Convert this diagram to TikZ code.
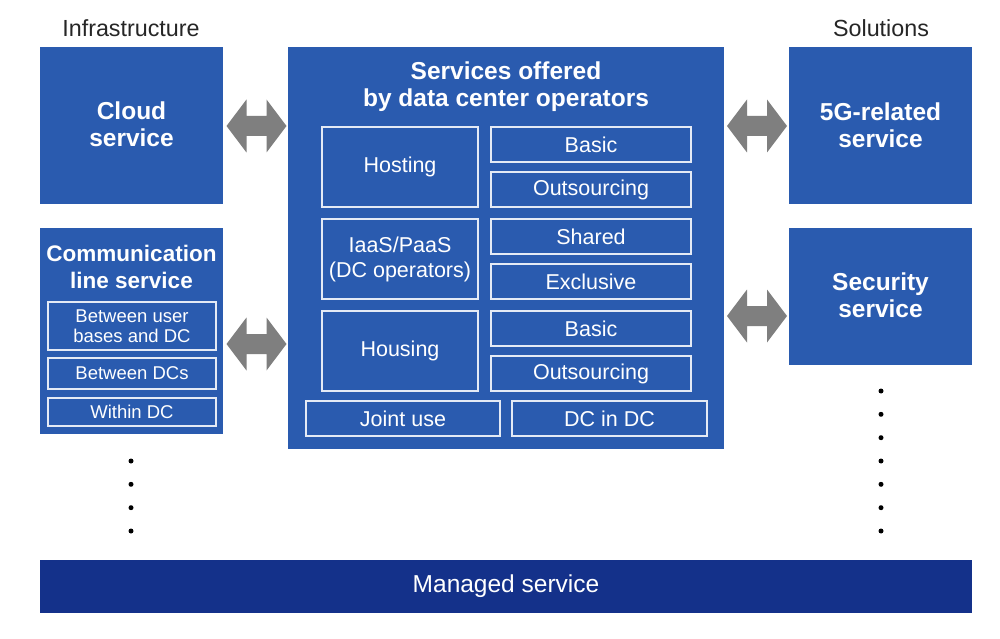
\documentclass[tikz,border=0pt]{standalone}
\usepackage{fontspec}
\setmainfont{Liberation Sans}
\definecolor{boxblue}{HTML}{2A5BAF}
\definecolor{navy}{HTML}{14318A}
\definecolor{arrowgray}{HTML}{7F7F7F}
\definecolor{frame}{HTML}{E4EAF5}
\begin{document}
\begin{tikzpicture}[x=1pt,y=-1pt,
  bluebox/.style={fill=boxblue, draw=none, inner sep=0pt, text=white, align=center,
    font=\fontsize{24.5}{27}\selectfont\bfseries},
  subbox/.style={draw=frame, line width=1.5pt, fill=boxblue, inner sep=0pt, text=white, align=center,
    font=\fontsize{21.5}{25}\selectfont},
  smallbox/.style={draw=frame, line width=1.5pt, fill=boxblue, inner sep=0pt, text=white, align=center,
    font=\fontsize{18.5}{20}\selectfont},
  titletext/.style={inner sep=0pt, text=white, align=center, font=\fontsize{24.5}{27}\selectfont\bfseries},
  headtext/.style={inner sep=0pt, text=black!85, font=\fontsize{23.3}{26}\selectfont},
  fatarrow/.style={fill=arrowgray, draw=none},
  dotmark/.style={circle, fill=black, inner sep=0pt, minimum size=5pt}
]
\useasboundingbox (0,0) rectangle (1000,639);
\fill[white] (0,0) rectangle (1000,639);

% headers
\node[headtext] (infra) at (131,28) {Infrastructure};
\node[headtext] (sol) at (881,28) {Solutions};

% left column
\node[bluebox, minimum width=183pt, minimum height=157pt] (cloud) at (131.5,125.5) {};
\node[titletext] (cloudt) at (131.5,124.5) {Cloud\\service};
\node[bluebox, minimum width=183pt, minimum height=206pt] (comm) at (131.5,331) {};
\node[titletext, font=\fontsize{22.5}{27}\selectfont\bfseries] (commtitle) at (131.5,267) {Communication\\line service};
\node[smallbox, minimum width=168pt, minimum height=48pt] (ub) at (132,326) {Between user\\bases and DC};
\node[smallbox, minimum width=168pt, minimum height=31pt] (bdc) at (132,373.5) {Between DCs};
\node[smallbox, minimum width=168pt, minimum height=28pt] (wdc) at (132,412) {Within DC};

% central box
\node[bluebox, minimum width=436pt, minimum height=402pt] (center) at (506,248) {};
\node[titletext] (ctitle) at (506,87) {Services offered\\by data center operators};
\node[subbox, minimum width=156pt, minimum height=80pt] (hosting) at (400,167) {Hosting};
\node[subbox, minimum width=156pt, minimum height=80pt] (iaas) at (400,259) {IaaS/PaaS\\(DC operators)};
\node[subbox, minimum width=156pt, minimum height=80pt] (housing) at (400,351) {Housing};
\node[subbox, minimum width=200pt, minimum height=35pt] (hbasic) at (591,144.5) {Basic};
\node[subbox, minimum width=200pt, minimum height=35pt] (hout) at (591,189.5) {Outsourcing};
\node[subbox, minimum width=200pt, minimum height=35pt] (shared) at (591,236.5) {Shared};
\node[subbox, minimum width=200pt, minimum height=35pt] (excl) at (591,281.5) {Exclusive};
\node[subbox, minimum width=200pt, minimum height=35pt] (obasic) at (591,328.5) {Basic};
\node[subbox, minimum width=200pt, minimum height=35pt] (oout) at (591,373.5) {Outsourcing};
\node[subbox, minimum width=194pt, minimum height=35pt] (joint) at (403,418.5) {Joint use};
\node[subbox, minimum width=195pt, minimum height=35pt] (dcindc) at (609.5,418.5) {DC in DC};

% right column
\node[bluebox, minimum width=183pt, minimum height=157pt] (fiveg) at (880.5,125.5) {};
\node[titletext] (fivegt) at (880.5,125) {5G-related\\service};
\node[bluebox, minimum width=183pt, minimum height=137pt] (sec) at (880.5,296.5) {};
\node[titletext] (sect) at (880.5,295.5) {Security\\service};

% managed service bar
\node[fill=navy, inner sep=0pt, minimum width=932pt, minimum height=53pt, text=white,
  font=\fontsize{24.5}{27}\selectfont] (managed) at (506,586.5) {Managed service};

% fat double arrows
\foreach \cx/\cy in {256.5/126, 256.5/344, 757/126, 757/316}{
  \fill[fatarrow] (\cx-30,\cy) -- (\cx-10,\cy-26.5) -- (\cx-10,\cy-10) -- (\cx+10,\cy-10)
    -- (\cx+10,\cy-26.5) -- (\cx+30,\cy) -- (\cx+10,\cy+26.5) -- (\cx+10,\cy+10)
    -- (\cx-10,\cy+10) -- (\cx-10,\cy+26.5) -- cycle;
}

% dots
\foreach \y [count=\i] in {461,484.3,507.7,531}{
  \node[dotmark] (ldot\i) at (131,\y) {};
}
\foreach \y [count=\i] in {391,414.3,437.7,461,484.3,507.7,531}{
  \node[dotmark] (rdot\i) at (881,\y) {};
}
\end{tikzpicture}
\end{document}
